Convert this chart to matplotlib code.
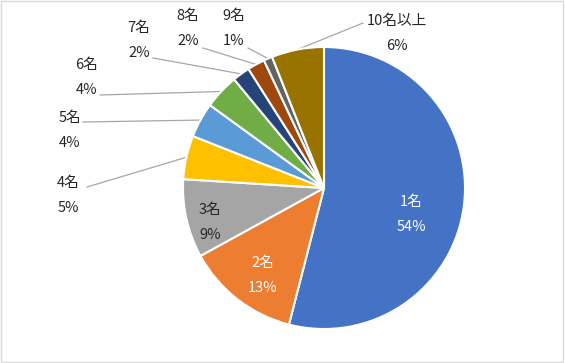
import numpy as np
import matplotlib
matplotlib.use('Agg')
import matplotlib.pyplot as plt
import matplotlib.patches as patches

# ----------
# Data
names = ['1名', '2名', '3名', '4名', '5名', '6名', '7名', '8名', '9名', '10名以上']
shares = [54, 13, 9, 5, 4, 4, 2, 2, 1, 6]

colors = ['#4472C4', '#ED7D31', '#A5A5A5', '#FFC000', '#5B9BD5',
          '#70AD47', '#264478', '#9E480E', '#636363', '#997300']

# ----------
# Layout (pixel positions in the 565x363 picture)
W, H = 565, 363
cx, cy, R = 324, 188, 141

# label centre (between name and percent), leader start (None = inside label)
label_pos = [(411, 214), (263, 275), (210, 222), (68, 195), (70, 130),
             (87, 77), (139, 40), (188, 28), (234, 28), (397, 33)]
leader_from = [None, None, None, (87, 187), (83, 122), (100, 95),
               (153, 58), (203, 48), (248, 48), (363, 23)]
text_color = ['white', 'white', '#262626'] + ['#262626'] * 7

plt.rcParams['font.family'] = ['Noto Sans CJK JP', 'DejaVu Sans']

fig = plt.figure(figsize=(W / 100, H / 100), dpi=100)
ax = fig.add_axes([0, 0, 1, 1])


def px(x, y):
    return (x - cx) / R, (cy - y) / R


wedges, _ = ax.pie(shares, colors=colors, startangle=90, counterclock=False,
                   radius=1.0, wedgeprops=dict(edgecolor='white', linewidth=1.5))

# pie() resets the limits, so fix them afterwards
ax.set_xlim(-cx / R, (W - cx) / R)
ax.set_ylim(-(H - cy) / R, cy / R)
ax.set_aspect('equal')
ax.axis('off')

for i, w in enumerate(wedges):
    lx, ly = label_pos[i]
    ax.text(*px(lx, ly - 12), names[i], ha='center', va='center',
            fontsize=10.5, color=text_color[i])
    ax.text(*px(lx, ly + 13), '%d%%' % shares[i], ha='center', va='center',
            fontsize=10.5, color=text_color[i])
    if leader_from[i] is not None:
        ang = np.deg2rad((w.theta1 + w.theta2) / 2)
        ex, ey = np.cos(ang), np.sin(ang)
        sx, sy = px(*leader_from[i])
        ax.plot([sx, ex], [sy, ey], color='#A6A6A6', lw=0.9, zorder=0)

# thin frame around the chart area
fig.add_artist(patches.Rectangle((0.002, 0.003), 0.995, 0.994, transform=fig.transFigure,
                                 fill=False, edgecolor='#D9D9D9', lw=1))

fig.savefig('out.png', dpi=100, facecolor='white')
